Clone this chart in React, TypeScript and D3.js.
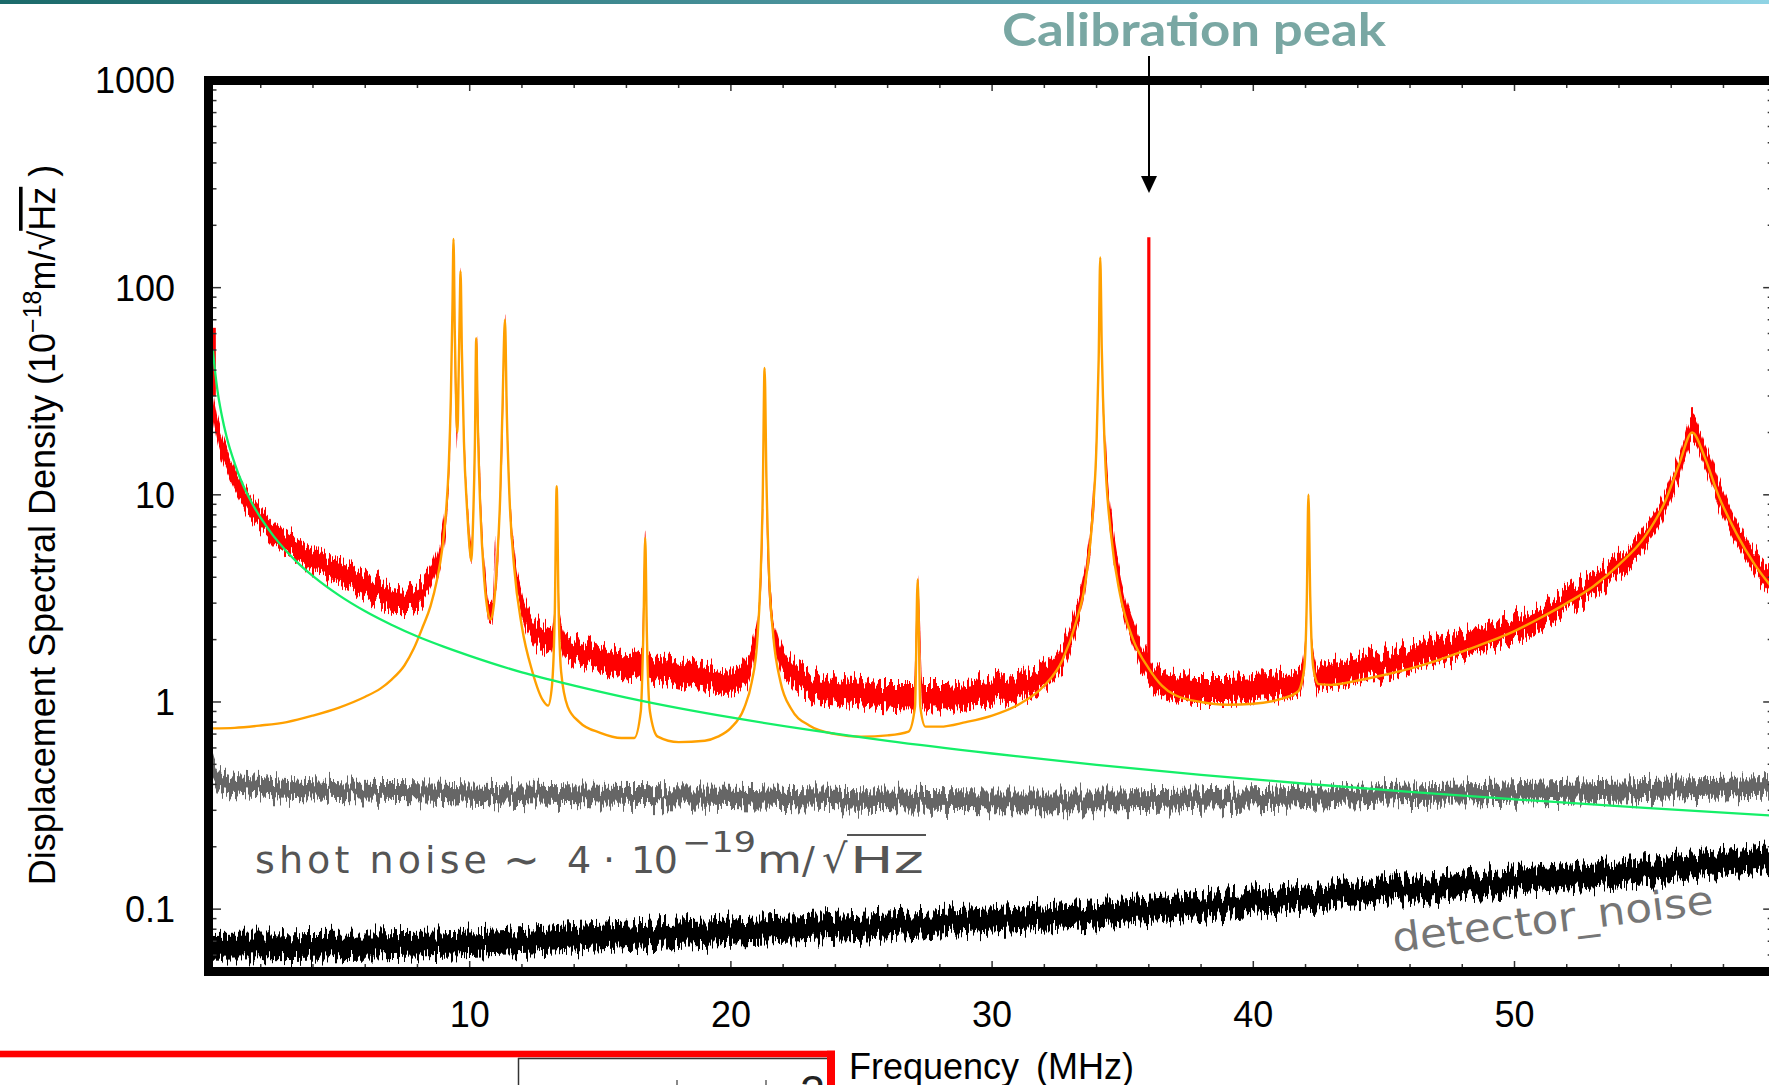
import React from 'react';
import * as d3 from 'd3';

const W = 1769;
const H = 1085;

const xMajorTicks: number[] = [10, 20, 30, 40, 50];
const xTickLabels: string[] = ['10', '20', '30', '40', '50'];
const yMajorTicks: number[] = [0.1, 1, 10, 100, 1000];
const yTickLabels: string[] = ['0.1', '1', '10', '100', '1000'];

// Lorentzian fit (orange): [MHz, 1e-18 m/sqrt(Hz)]
const orangeFit: [number, number][] = [
  [0, 0.745], [1, 0.75], [2, 0.77], [3, 0.8], [4, 0.86], [5, 0.94], [6, 1.06], [6.58, 1.16], [7, 1.28],
  [7.5, 1.5], [7.85, 1.8], [8.2, 2.3], [8.5, 2.9], [8.75, 3.9], [8.95, 5.5], [9.1, 8.5], [9.2, 14],
  [9.28, 30], [9.34, 80], [9.38, 172], [9.43, 60], [9.49, 24], [9.53, 20], [9.58, 40], [9.62, 80],
  [9.65, 120], [9.7, 50], [9.78, 18], [9.9, 8.5], [10.0, 5.5], [10.06, 4.8], [10.13, 7.5], [10.2, 18],
  [10.25, 57], [10.31, 22], [10.4, 9], [10.55, 4], [10.7, 2.7], [10.8, 2.5], [10.92, 2.9], [11.05, 4.8],
  [11.17, 10], [11.26, 28], [11.35, 70], [11.42, 25], [11.52, 10], [11.7, 4.5], [12.0, 2.3], [12.4, 1.4],
  [12.8, 1.02], [13.0, 0.96], [13.15, 1.2], [13.26, 2.8], [13.33, 11], [13.4, 3], [13.5, 1.4],
  [13.75, 0.95], [14.2, 0.8], [15, 0.71], [15.8, 0.67], [16.3, 0.67], [16.55, 0.9], [16.65, 2.2],
  [16.72, 6.2], [16.78, 2.2], [16.9, 0.9], [17.2, 0.68], [18, 0.64], [19, 0.65], [19.5, 0.68], [20, 0.75],
  [20.5, 0.93], [20.8, 1.25], [21.0, 1.9], [21.13, 3.8], [21.22, 10], [21.29, 41], [21.36, 12],
  [21.46, 4.2], [21.62, 2.1], [21.9, 1.25], [22.3, 0.93], [23, 0.77], [24, 0.7], [25, 0.68], [26, 0.69],
  [26.8, 0.72], [27.05, 0.95], [27.15, 3.9], [27.25, 0.95], [27.45, 0.76], [28, 0.76], [29, 0.8],
  [30, 0.86], [31, 0.97], [32, 1.2], [32.7, 1.6], [33.2, 2.4], [33.6, 4], [33.85, 8], [34.0, 18],
  [34.08, 45], [34.14, 140], [34.2, 50], [34.32, 16], [34.55, 6.5], [34.9, 3.3], [35.4, 2.0], [36, 1.45],
  [36.5, 1.2], [37, 1.08], [38, 1.0], [39, 0.97], [40, 0.98], [41, 1.03], [41.7, 1.12], [41.95, 1.45],
  [42.05, 3.2], [42.11, 10], [42.18, 3.2], [42.3, 1.45], [42.5, 1.22], [43, 1.21], [44, 1.27], [45, 1.35],
  [46, 1.45], [47, 1.58], [48, 1.75], [49, 1.95], [50, 2.2], [51, 2.55], [52, 3.0], [53, 3.6], [54, 4.6],
  [55, 6.3], [55.8, 9.5], [56.3, 14], [56.8, 20], [57.3, 15], [57.8, 10], [58.5, 6.5], [59.2, 4.6], [60, 3.4],
];

// 1/f-like background (green)
const greenCurve: [number, number][] = [
  [0.17, 50], [0.25, 39.5], [0.35, 31.5], [0.5, 24.5], [0.7, 18.9], [1.0, 14.2], [1.3, 11.3],
  [1.6, 9.44], [2.0, 7.73], [2.5, 6.3], [3.0, 5.31], [3.5, 4.59], [4.0, 4.05], [5.0, 3.27], [6.0, 2.74],
  [7.0, 2.36], [8.0, 2.07], [9.0, 1.85], [10, 1.67], [12, 1.39], [14, 1.2], [16, 1.05], [18, 0.934],
  [20, 0.842], [23, 0.733], [26, 0.649], [30, 0.564], [34, 0.497], [38, 0.445], [42, 0.403], [46, 0.368],
  [50, 0.339], [55, 0.308], [60, 0.282],
];

// measured spectrum (red): [MHz, low, high] envelope of the noisy trace
const redBand: [number, number, number][] = [
  [0.0, 45, 70], [0.06, 34, 52], [0.15, 25, 34], [0.3, 19, 25], [0.5, 15, 20], [0.75, 12.5, 16],
  [1.0, 10.5, 13.5], [1.3, 9, 11.5], [1.6, 7.8, 10], [2.0, 6.8, 8.6], [2.5, 5.8, 7.4], [3.0, 5.2, 6.6],
  [3.5, 4.7, 6.0], [4.0, 4.3, 5.5], [4.5, 4.0, 5.1], [5.0, 3.7, 4.8], [5.5, 3.45, 4.5], [6.0, 3.2, 4.2],
  [6.5, 3.0, 3.9], [7.0, 2.85, 3.7], [7.5, 2.8, 3.6], [8.0, 2.85, 3.7], [8.3, 3.1, 4.0], [8.6, 3.6, 4.6],
  [8.85, 4.5, 5.8], [9.0, 5.6, 7.5], [9.15, 8.5, 11], [9.25, 14, 20], [9.32, 40, 60], [9.38, 120, 175],
  [9.45, 30, 45], [9.52, 17, 24], [9.58, 35, 50], [9.65, 90, 125], [9.72, 30, 45], [9.82, 12, 17],
  [9.95, 6.5, 8.5], [10.06, 4.5, 5.8], [10.15, 8, 11], [10.22, 22, 30], [10.28, 45, 60], [10.34, 18, 25],
  [10.45, 6.5, 8.5], [10.6, 3.4, 4.4], [10.75, 2.45, 3.1], [10.88, 2.5, 3.2], [10.93, 3.5, 4.5],
  [10.97, 5.2, 6.2], [11.02, 3.2, 4.0], [11.1, 5, 7], [11.22, 12, 17], [11.3, 30, 42], [11.36, 60, 72],
  [11.42, 25, 35], [11.52, 9, 12], [11.7, 4.3, 5.6], [12.0, 2.6, 3.4], [12.4, 2.0, 2.6], [12.8, 1.75, 2.3],
  [13.1, 1.7, 2.2], [13.25, 2.2, 3.0], [13.33, 9, 11], [13.45, 2.0, 2.6], [13.7, 1.6, 2.1],
  [14.2, 1.55, 2.0], [15, 1.4, 1.85], [16, 1.3, 1.7], [16.6, 1.4, 1.9], [16.72, 5.5, 6.3],
  [16.85, 1.3, 1.7], [17.5, 1.25, 1.65], [18, 1.2, 1.6], [19, 1.15, 1.5], [20, 1.12, 1.45],
  [20.5, 1.2, 1.6], [20.9, 1.6, 2.1], [21.1, 2.6, 3.4], [21.22, 6, 9], [21.3, 30, 41], [21.38, 6, 9],
  [21.55, 2.4, 3.2], [21.8, 1.6, 2.1], [22.3, 1.2, 1.6], [23, 1.05, 1.4], [24, 0.98, 1.3],
  [25, 0.95, 1.25], [26, 0.93, 1.22], [27, 0.92, 1.22], [27.15, 3.2, 3.9], [27.35, 0.92, 1.22],
  [28, 0.92, 1.22], [29, 0.94, 1.25], [30, 0.98, 1.3], [31, 1.02, 1.35], [32, 1.15, 1.5],
  [32.7, 1.45, 1.9], [33.2, 2.1, 2.8], [33.6, 3.6, 4.8], [33.85, 7, 9.5], [34.0, 16, 22], [34.08, 40, 55],
  [34.14, 100, 140], [34.2, 40, 55], [34.35, 13, 18], [34.6, 5.5, 7.5], [35.0, 2.8, 3.7], [35.5, 1.7, 2.3],
  [36.0, 1.25, 1.65], [36.5, 1.05, 1.4], [37, 1.02, 1.35], [38, 1.0, 1.32], [39, 1.0, 1.32],
  [40, 1.02, 1.35], [41, 1.05, 1.38], [41.8, 1.12, 1.5], [42.0, 1.6, 2.2], [42.11, 5.5, 6.6],
  [42.25, 1.5, 2], [42.5, 1.15, 1.5], [43, 1.18, 1.55], [44, 1.25, 1.65], [45, 1.33, 1.75],
  [46, 1.42, 1.85], [47, 1.52, 2.0], [48, 1.65, 2.15], [49, 1.8, 2.35], [50, 2.0, 2.6], [51, 2.3, 2.95],
  [52, 2.7, 3.45], [53, 3.2, 4.1], [54, 4.0, 5.1], [55, 5.5, 7.0], [55.8, 8.3, 10.5], [56.3, 12, 15.5],
  [56.8, 18, 24], [57.3, 13.5, 17.5], [57.8, 9, 12], [58.5, 5.8, 7.5], [59.2, 4.1, 5.3], [60, 3.1, 4.1],
];

// narrow single-bin lines in the measured spectrum: [MHz, base, top]
const redSpikes: [number, number, number][] = [
  [0.22, 30, 64],
  [36.0, 1.3, 175],
];

// shot noise (grey): [MHz, low, high]
const greyBand: [number, number, number][] = [
  [0.0, 0.55, 0.75], [0.1, 0.45, 0.6], [0.25, 0.4, 0.5], [0.5, 0.37, 0.46], [1, 0.36, 0.44],
  [2, 0.35, 0.43], [3, 0.345, 0.42], [5, 0.34, 0.41], [8, 0.335, 0.405], [10, 0.33, 0.4],
  [15, 0.32, 0.39], [20, 0.315, 0.385], [25, 0.305, 0.375], [30, 0.3, 0.37], [35, 0.3, 0.37],
  [38, 0.305, 0.375], [42, 0.315, 0.385], [46, 0.325, 0.395], [50, 0.33, 0.405], [55, 0.34, 0.42],
  [60, 0.35, 0.43],
];

// detector noise (black): [MHz, low, high]
const blackBand: [number, number, number][] = [
  [0, 0.057, 0.075], [5, 0.058, 0.076], [10, 0.06, 0.078], [15, 0.064, 0.084], [20, 0.068, 0.089],
  [25, 0.072, 0.094], [30, 0.078, 0.101], [35, 0.085, 0.11], [40, 0.095, 0.123], [45, 0.107, 0.138],
  [50, 0.12, 0.156], [55, 0.135, 0.176], [60, 0.152, 0.198],
];

const FONT = 'Liberation Sans, Arial, Helvetica, sans-serif';

export default function App() {
  const x = d3.scaleLinear().domain([0, 60]).range([208.5, 1775.7]);
  const y = d3.scaleLog().domain([0.05, 1000]).range([971.5, 80.5]);

  const line = d3
    .line<[number, number]>()
    .x((d) => x(d[0]))
    .y((d) => y(d[1]))
    .curve(d3.curveMonotoneX);
  const band = d3
    .area<[number, number, number]>()
    .x((d) => x(d[0]))
    .y0((d) => y(d[1]))
    .y1((d) => y(d[2]))
    .curve(d3.curveMonotoneX);

  const left = x(0);
  const right = x(60);
  const top = y(1000);
  const bottom = y(0.05);
  const fw = 9;
  const innerL = left + fw / 2;
  const innerR = right - fw / 2;
  const innerT = top + fw / 2;
  const innerB = bottom - fw / 2;

  const isDecade = (v: number) => Math.abs(Math.log10(v) - Math.round(Math.log10(v))) < 1e-6;
  const yMinor = y.ticks().filter((v) => !isDecade(v));
  const xMinor = d3.range(0, 61, 2).filter((v) => v % 10 !== 0);

  const tickColor = '#333';

  return (
    <svg
      width={W}
      height={H}
      viewBox={`0 0 ${W} ${H}`}
      style={{ position: 'absolute', left: 0, top: 0, background: '#fff' }}
    >
      <defs>
        <linearGradient id="banner" x1="0" x2="1" y1="0" y2="0">
          <stop offset="0" stopColor="#1b6a6a" />
          <stop offset="0.5" stopColor="#4e96a0" />
          <stop offset="1" stopColor="#8fd3e4" />
        </linearGradient>
        <clipPath id="plotClip">
          <rect x={innerL} y={innerT} width={innerR - innerL} height={innerB - innerT} />
        </clipPath>
        <filter
          id="jitter"
          filterUnits="userSpaceOnUse"
          x={0}
          y={0}
          width={W}
          height={H}
          colorInterpolationFilters="sRGB"
        >
          <feTurbulence type="fractalNoise" baseFrequency="0.45 0.004" numOctaves={2} seed={7} result="t" />
          <feColorMatrix
            in="t"
            type="matrix"
            values="0 0 0 0 0.5  0 1.7 0 0 -0.35  0 0 1 0 0  0 0 0 0 1"
            result="m"
          />
          <feDisplacementMap in="SourceGraphic" in2="m" scale={20} xChannelSelector="R" yChannelSelector="G" />
        </filter>
      </defs>

      <rect x={0} y={0} width={W} height={H} fill="#fff" />
      <rect x={0} y={0} width={W} height={4} fill="url(#banner)" />

      <g clipPath="url(#plotClip)">
        <path d={band(blackBand) ?? ''} fill="#000" filter="url(#jitter)" />
        <path d={band(greyBand) ?? ''} fill="#666" filter="url(#jitter)" />
        <path d={band(redBand) ?? ''} fill="#ff0000" filter="url(#jitter)" />
        {redSpikes.map((s, i) => (
          <line key={i} x1={x(s[0])} x2={x(s[0])} y1={y(s[1])} y2={y(s[2])} stroke="#ff0000" strokeWidth={3.2} />
        ))}
        <path d={line(orangeFit) ?? ''} fill="none" stroke="#ffa000" strokeWidth={2.4} strokeLinejoin="round" />
        <path d={line(greenCurve) ?? ''} fill="none" stroke="#14ef68" strokeWidth={2.3} strokeLinejoin="round" />
      </g>

      {/* ticks */}
      <g stroke={tickColor} strokeWidth={1.5}>
        {yMajorTicks.map((v) => (
          <g key={'ym' + v}>
            <line x1={innerL} x2={innerL + 8} y1={y(v)} y2={y(v)} />
            <line x1={innerR} x2={innerR - 8} y1={y(v)} y2={y(v)} />
          </g>
        ))}
        {yMinor.map((v) => (
          <g key={'yn' + v}>
            <line x1={innerL} x2={innerL + 3.5} y1={y(v)} y2={y(v)} />
            <line x1={innerR} x2={innerR - 3.5} y1={y(v)} y2={y(v)} />
          </g>
        ))}
        {xMajorTicks.map((v) => (
          <g key={'xm' + v}>
            <line x1={x(v)} x2={x(v)} y1={innerB} y2={innerB - 6} />
            <line x1={x(v)} x2={x(v)} y1={innerT} y2={innerT + 6} />
          </g>
        ))}
        {xMinor.map((v) => (
          <g key={'xn' + v}>
            <line x1={x(v)} x2={x(v)} y1={innerB} y2={innerB - 3} />
            <line x1={x(v)} x2={x(v)} y1={innerT} y2={innerT + 3} />
          </g>
        ))}
      </g>

      {/* frame */}
      <rect x={left} y={top} width={right - left} height={bottom - top} fill="none" stroke="#000" strokeWidth={fw} />

      {/* tick labels */}
      <g fontFamily={FONT} fontSize={36} fill="#000">
        {yMajorTicks.map((v, i) => (
          <text key={'yl' + v} x={175} y={y(v)} dy="0.36em" textAnchor="end">
            {yTickLabels[i]}
          </text>
        ))}
        {xMajorTicks.map((v, i) => (
          <text key={'xl' + v} x={x(v)} y={1027} textAnchor="middle">
            {xTickLabels[i]}
          </text>
        ))}
        <text x={849} y={1079}>Frequency</text>
        <text x={1036} y={1079}>(MHz)</text>
      </g>

      {/* y axis title */}
      <text transform="translate(55,525) rotate(-90)" textAnchor="middle" fontFamily={FONT} fontSize={36} fill="#000">
        Displacement Spectral Density (10
        <tspan dy={-14} fontSize={25}>−18</tspan>
        <tspan dy={14}>m/√</tspan>
        <tspan style={{ textDecoration: 'overline' }}>Hz</tspan>
        <tspan> )</tspan>
      </text>

      {/* calibration annotation */}
      <text
        x={1002}
        y={46}
        fontFamily="Lato, 'Open Sans', sans-serif"
        fontWeight={700}
        fontSize={46}
        fill="#79a7a3"
        textLength={384}
        lengthAdjust="spacingAndGlyphs"
      >
        Calibration peak
      </text>
      <line x1={1149} x2={1149} y1={56} y2={180} stroke="#000" strokeWidth={2} />
      <path d="M1141,176 L1157,176 L1149,193 Z" fill="#000" />

      {/* shot noise label */}
      <g fontFamily="'DejaVu Sans', sans-serif" fill="#555" fontSize={38}>
        <text x={255} y={873} textLength={232} lengthAdjust="spacing">shot noise</text>
        <text x={503} y={875} fontSize={44}>∼</text>
        <text x={567} y={873}>4</text>
        <text x={603} y={873}>·</text>
        <text x={631} y={873} textLength={47} lengthAdjust="spacing">10</text>
        <text x={682} y={852} fontSize={28} textLength={74} lengthAdjust="spacingAndGlyphs">−19</text>
        <text x={757} y={873} textLength={45} lengthAdjust="spacingAndGlyphs">m</text>
        <text x={802} y={873}>/</text>
        <text x={822} y={873} fontSize={40}>√</text>
        <text x={850} y={873} textLength={74} lengthAdjust="spacingAndGlyphs">Hz</text>
        <line x1={847} x2={926} y1={835} y2={835} stroke="#555" strokeWidth={2} />
      </g>

      {/* detector noise label */}
      <text
        transform="translate(1394,952) rotate(-6.9)"
        fontFamily="'DejaVu Sans', sans-serif"
        fontSize={40}
        fill="#767676"
        textLength={323}
        lengthAdjust="spacingAndGlyphs"
      >
        detector_noise
      </text>

      {/* slide remnants at bottom */}
      <rect x={0} y={1050.7} width={835} height={6.6} fill="#ff0000" />
      <rect x={827} y={1050.7} width={8} height={H - 1050.7} fill="#ff0000" />
      <line x1={518.5} x2={518.5} y1={1058} y2={H} stroke="#333" strokeWidth={1.5} />
      <line x1={518} x2={827} y1={1058.6} y2={1058.6} stroke="#333" strokeWidth={1.5} />
      <text x={800} y={1107} fontFamily={FONT} fontSize={45} fill="#222">2</text>
      <rect x={676} y={1080} width={2} height={5} fill="#888" />
      <rect x={765} y={1080} width={2} height={5} fill="#888" />
    </svg>
  );
}
